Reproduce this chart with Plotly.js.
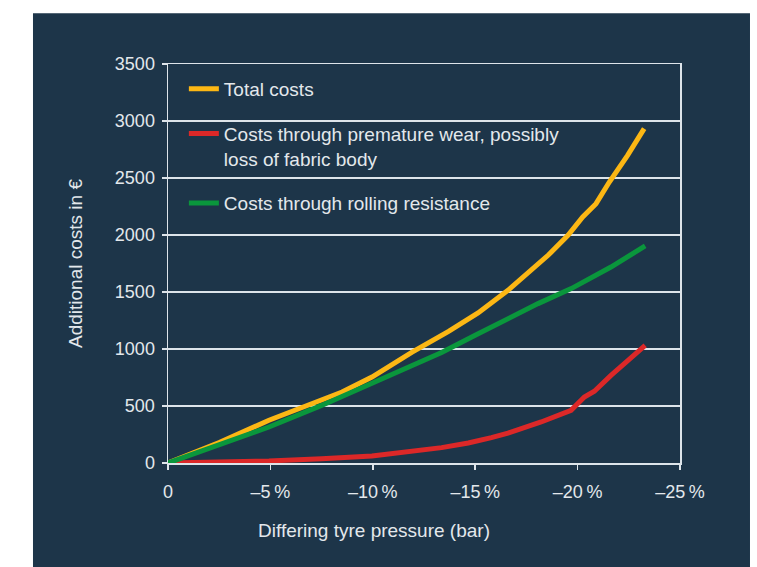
<!DOCTYPE html>
<html>
<head>
<meta charset="utf-8">
<script src="https://cdn.plot.ly/plotly-3.0.1.min.js"></script>
<style>html,body{margin:0;padding:0;background:#fff;}#chart{width:757px;height:567px;}</style>
</head>
<body>
<div id="chart"></div>
<script>
// Pressure deviation in % (negative = under-inflation)
const totalX = [0, -2.5, -4.93, -6.55, -8.5, -9.96, -11.9, -13.7, -15.14, -16.6, -17.6, -18.56, -19.53, -20.25, -20.9, -21.55, -22.44, -23.25];
const totalY = [0, 180, 375, 486, 623, 754, 970, 1155, 1316, 1515, 1675, 1822, 1997, 2158, 2275, 2465, 2699, 2933];

const wearX = [0, -2.5, -4.93, -7.5, -9.96, -13.36, -14.66, -15.79, -16.6, -18.22, -19.68, -20.33, -20.82, -21.63, -22.5, -23.3];
const wearY = [0, 8, 18, 38, 61, 135, 175, 222, 262, 360, 462, 579, 629, 769, 900, 1032];

const rollX = [0, -2.5, -4.93, -7.5, -9.96, -11.9, -13.36, -15.0, -16.77, -18.07, -19.69, -21.63, -23.3];
const rollY = [0, 155, 316, 505, 696, 845, 970, 1120, 1281, 1398, 1530, 1719, 1904];

const seriesNames = ['Total costs', 'Costs through premature wear, possibly<br>loss of fabric body', 'Costs through rolling resistance'];
const seriesColors = ['#fcb714', '#dc2828', '#0a963c'];

const xTickVals = [0, -5, -10, -15, -20, -25];
const xTickText = ['0', '\u20135\u2009%', '\u201310\u2009%', '\u201315\u2009%', '\u201320\u2009%', '\u201325\u2009%'];
const yTickVals = [0, 500, 1000, 1500, 2000, 2500, 3000, 3500];

const navy = '#1d3549';
const txt = '#e3e8ec';
const grid = '#dde4ea';
const font = 'Liberation Sans, Arial, Helvetica, sans-serif';

const xs = [totalX, wearX, rollX];
const ys = [totalY, wearY, rollY];
const traces = xs.map((x, i) => ({
  type: 'scatter', mode: 'lines', x: x, y: ys[i],
  name: seriesNames[i], legendgroup: 'g' + i,
  line: {color: seriesColors[i], width: 5},
  hoverinfo: 'skip'
}));

const layout = {
  width: 757, height: 567,
  margin: {l: 168, r: 77, t: 64, b: 104},
  paper_bgcolor: '#ffffff',
  plot_bgcolor: 'rgba(0,0,0,0)',
  font: {family: font, color: txt, size: 18},
  showlegend: true,
  legend: {
    x: 0.031, y: 0.985, xanchor: 'left', yanchor: 'top',
    bgcolor: 'rgba(0,0,0,0)', borderwidth: 0,
    font: {family: font, size: 19, color: txt},
    tracegroupgap: 17, valign: 'top', itemwidth: 30
  },
  xaxis: {
    range: [0, -25], tickvals: xTickVals, ticktext: xTickText,
    showgrid: false, zeroline: false,
    showline: true, linecolor: grid, linewidth: 1.5, mirror: true,
    ticks: 'outside', ticklen: 5, tickwidth: 1.5, tickcolor: grid,
    tickfont: {family: font, size: 18, color: txt},
    ticklabelstandoff: 7,
    fixedrange: true
  },
  yaxis: {
    range: [0, 3500], tickvals: yTickVals,
    showgrid: true, gridcolor: grid, gridwidth: 1.5,
    zeroline: false,
    showline: true, linecolor: grid, linewidth: 1.5, mirror: true,
    ticks: 'outside', ticklen: 5, tickwidth: 1.5, tickcolor: grid,
    tickfont: {family: font, size: 18, color: txt},
    ticklabelstandoff: 3,
    title: {text: 'Additional costs in \u20ac', font: {family: font, size: 19, color: txt}, standoff: 27},
    fixedrange: true
  },
  shapes: [{
    type: 'rect', xref: 'paper', yref: 'paper', layer: 'below',
    x0: -0.2637, x1: 1.1367, y0: -0.3, y1: 1.127,
    fillcolor: navy, line: {width: 0}
  }],
  annotations: [{
    xref: 'paper', yref: 'paper', x: 0.4033, y: -0.1687,
    xanchor: 'center', yanchor: 'middle', showarrow: false,
    text: 'Differing tyre pressure (bar)',
    font: {family: font, size: 19, color: txt}
  }]
};

Plotly.newPlot('chart', traces, layout, {displayModeBar: false, staticPlot: true});
</script>
</body>
</html>
